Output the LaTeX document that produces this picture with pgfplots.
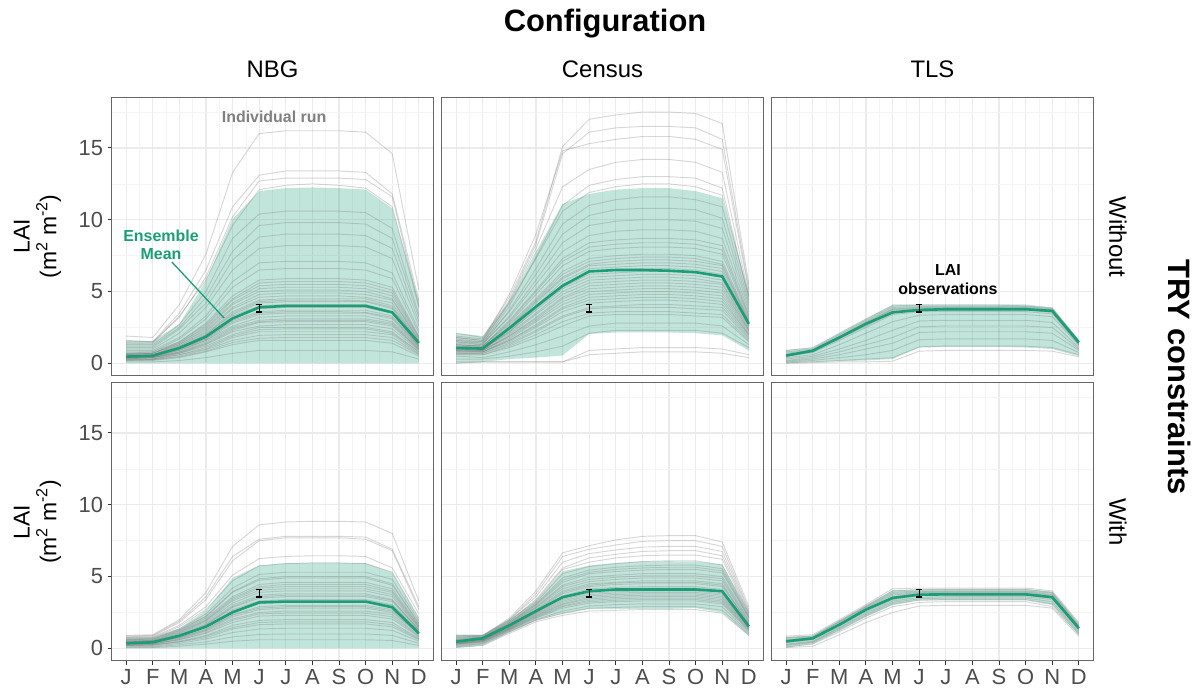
\documentclass[border=0pt]{standalone}
\usepackage{fontspec}
\setmainfont{Liberation Sans}
\usepackage{pgfplots}
\usepackage{pgfplotstable}
\pgfplotsset{compat=1.18}
\usepgfplotslibrary{fillbetween}

\definecolor{dgreen}{HTML}{1B9E77}
\definecolor{gridmaj}{HTML}{EBEBEB}
\definecolor{gridmin}{HTML}{F4F4F4}
\definecolor{framec}{HTML}{666666}
\definecolor{tickc}{HTML}{333333}
\definecolor{ticktxt}{HTML}{4D4D4D}
\definecolor{annot}{HTML}{808080}
\definecolor{rungray}{HTML}{7A7A7A}

% ---------- ensemble summaries: month, ribbon low, ribbon high, ensemble mean
\pgfplotstableread{
m lo hi mu
1 0 1.58 0.47
2 0 1.55 0.53
3 0 2.74 1.07
4 0 5.75 1.86
5 0 10.05 3.13
6 0 12.0 3.9
7 0 12.2 4.0
8 0 12.25 4.0
9 0 12.2 4.0
10 0 12.1 4.0
11 0 10.8 3.55
12 0 4.4 1.42
}\sumNBGwo
\pgfplotstableread{
m lo hi mu
1 0.0 2.1 1.07
2 0.1 1.9 1.03
3 0.3 4.3 2.45
4 0.4 7.8 3.95
5 0.55 11.1 5.4
6 2.05 11.8 6.4
7 2.15 12.1 6.5
8 2.15 12.2 6.5
9 2.15 12.2 6.45
10 2.1 12.0 6.35
11 1.95 11.5 6.05
12 0.9 4.95 2.75
}\sumCENwo
\pgfplotstableread{
m lo hi mu
1 0.0 0.93 0.54
2 0.1 1.1 0.88
3 0.15 2.1 1.8
4 0.2 3.1 2.75
5 0.3 4.1 3.55
6 1.1 4.1 3.72
7 1.15 4.1 3.77
8 1.15 4.1 3.77
9 1.15 4.1 3.77
10 1.1 4.1 3.77
11 1.0 3.9 3.65
12 0.5 1.65 1.45
}\sumTLSwo
\pgfplotstableread{
m lo hi mu
1 0 0.77 0.35
2 0 0.77 0.42
3 0 1.4 0.88
4 0 2.63 1.51
5 0 4.9 2.51
6 0 5.77 3.2
7 0 5.93 3.26
8 0 5.95 3.26
9 0 5.95 3.26
10 0 5.93 3.26
11 0 5.28 2.86
12 0 2.12 1.05
}\sumNBGw
\pgfplotstableread{
m lo hi mu
1 0.05 0.95 0.47
2 0.2 0.95 0.7
3 1.1 2.0 1.6
4 1.95 3.3 2.6
5 2.4 5.37 3.56
6 2.74 5.77 3.98
7 2.75 5.95 4.1
8 2.75 6.05 4.1
9 2.75 6.07 4.1
10 2.8 6.05 4.1
11 2.5 5.84 3.98
12 0.88 2.55 1.53
}\sumCENw
\pgfplotstableread{
m lo hi mu
1 0.05 0.8 0.49
2 0.3 0.9 0.7
3 1.2 1.95 1.65
4 2.2 3.0 2.7
5 3.0 4.05 3.51
6 3.35 4.1 3.74
7 3.35 4.15 3.76
8 3.35 4.15 3.76
9 3.35 4.15 3.76
10 3.35 4.15 3.76
11 3.0 3.95 3.56
12 0.9 1.7 1.4
}\sumTLSw

% ---------- LAI observation (June) with its uncertainty
\pgfplotstableread{
m obs err
6 3.85 0.27
}\obsdata

% ---------- individual runs, one row per run (J ... D)
\pgfplotstableread{
J F M A My Jn Jl Au S O N D
1.9 1.8 4.1 7.6 13.3 16.0 16.2 16.2 16.2 16.1 14.6 5.1
1.6 1.5 3.5 6.5 10.9 13.1 13.4 13.4 13.4 13.3 11.8 4.4
1.5 1.5 3.2 6.0 10.2 12.7 12.9 12.9 12.9 12.8 11.6 4.0
1.4 1.4 3.3 5.8 9.6 12.1 12.4 12.5 12.4 12.2 10.9 3.9
1.3 1.3 2.7 5.0 8.7 10.4 10.6 10.6 10.6 10.5 9.4 3.4
1.2 1.2 2.5 4.6 7.8 9.6 9.8 9.8 9.8 9.7 8.7 3.2
1.1 1.1 2.4 4.2 7.2 8.8 9.0 9.0 9.0 8.9 8.0 2.9
1.0 1.0 2.1 3.9 6.5 8.0 8.2 8.2 8.2 8.1 7.3 2.6
0.9 0.9 1.8 3.3 5.7 7.0 7.1 7.1 7.1 7.0 6.3 2.3
0.8 0.8 1.7 3.1 5.3 6.5 6.6 6.6 6.6 6.5 5.9 2.1
0.7 0.8 1.5 2.8 4.7 5.8 5.9 5.9 5.9 5.8 5.3 1.9
0.7 0.7 1.5 2.7 4.5 5.6 5.7 5.7 5.7 5.6 5.1 1.8
0.7 0.7 1.4 2.6 4.4 5.4 5.5 5.5 5.5 5.4 4.9 1.8
0.6 0.7 1.4 2.5 4.2 5.2 5.3 5.3 5.3 5.2 4.7 1.7
0.6 0.7 1.3 2.4 4.1 5.0 5.1 5.1 5.1 5.0 4.5 1.6
0.6 0.6 1.3 2.3 3.9 4.8 4.9 4.9 4.9 4.8 4.4 1.6
0.6 0.6 1.2 2.2 3.8 4.6 4.7 4.7 4.7 4.6 4.2 1.5
0.5 0.6 1.2 2.1 3.6 4.4 4.5 4.5 4.5 4.5 4.0 1.5
0.55 0.55 1.1 2.0 3.5 4.3 4.4 4.4 4.4 4.35 3.9 1.45
0.5 0.6 1.1 2.0 3.4 4.2 4.3 4.3 4.3 4.3 3.8 1.4
0.5 0.5 1.1 1.9 3.3 4.0 4.1 4.1 4.1 4.1 3.6 1.3
0.5 0.5 1.0 1.8 3.1 3.8 3.9 3.9 3.9 3.9 3.5 1.2
0.45 0.5 1.0 1.7 3.0 3.6 3.7 3.7 3.7 3.7 3.3 1.2
0.4 0.45 0.95 1.7 2.9 3.5 3.6 3.6 3.6 3.55 3.2 1.2
0.4 0.5 0.9 1.6 2.8 3.4 3.5 3.5 3.5 3.5 3.1 1.1
0.4 0.4 0.9 1.6 2.6 3.2 3.3 3.3 3.3 3.3 2.9 1.1
0.4 0.4 0.8 1.5 2.5 3.0 3.1 3.1 3.1 3.1 2.8 1.0
0.35 0.4 0.8 1.4 2.4 2.9 3.0 3.0 3.0 3.0 2.7 1.0
0.35 0.4 0.75 1.35 2.3 2.85 2.9 2.9 2.9 2.9 2.6 0.95
0.3 0.4 0.7 1.3 2.2 2.6 2.7 2.7 2.7 2.7 2.4 0.9
0.3 0.3 0.7 1.2 2.0 2.5 2.5 2.5 2.5 2.5 2.2 0.8
0.3 0.3 0.6 1.1 1.9 2.35 2.4 2.4 2.4 2.4 2.1 0.8
0.3 0.3 0.6 1.0 1.8 2.2 2.2 2.2 2.2 2.2 2.0 0.7
0.25 0.25 0.5 0.95 1.6 1.95 2.0 2.0 2.0 2.0 1.8 0.65
0.2 0.25 0.45 0.85 1.45 1.75 1.8 1.8 1.8 1.8 1.6 0.6
0.2 0.2 0.4 0.8 1.3 1.6 1.6 1.6 1.6 1.6 1.4 0.5
0.1 0.1 0.2 0.4 0.7 0.9 0.9 0.9 0.9 0.9 0.8 0.3
}\runNBGwoRows
\pgfplotstableread{
J F M A My Jn Jl Au S O N D
2.1 1.8 4.6 8.5 15.1 17.0 17.3 17.5 17.5 17.4 16.7 5.5
1.9 1.7 4.4 8.3 14.6 16.1 16.4 16.5 16.5 16.4 15.6 5.2
1.8 1.6 4.8 9.0 14.8 15.3 15.6 15.8 15.8 15.6 14.9 5.0
1.7 1.5 4.3 8.0 12.3 13.5 14.0 14.2 14.2 14.0 13.3 4.7
1.6 1.4 4.0 7.4 11.0 12.4 12.8 13.0 13.0 12.9 12.2 4.4
1.8 1.6 4.2 7.3 10.6 11.9 12.3 12.5 12.5 12.3 11.7 4.6
1.5 1.3 3.7 6.6 9.7 11.0 11.4 11.6 11.6 11.4 10.9 4.2
1.6 1.5 3.6 6.2 9.0 10.3 10.7 10.8 10.8 10.7 10.1 4.0
1.4 1.3 3.3 5.8 8.4 9.6 9.9 10.0 10.0 9.9 9.4 3.8
1.5 1.4 3.2 5.5 7.8 8.9 9.2 9.3 9.3 9.2 8.7 3.6
1.3 1.2 3.0 5.1 7.3 8.4 8.6 8.7 8.7 8.6 8.2 3.4
1.3 1.2 2.9 5.0 7.1 8.1 8.3 8.4 8.4 8.3 7.9 3.3
1.2 1.2 2.8 4.8 6.8 7.8 8.0 8.1 8.1 8.0 7.6 3.2
1.3 1.2 2.7 4.5 6.4 7.3 7.5 7.6 7.6 7.5 7.1 3.1
1.2 1.1 2.6 4.4 6.2 7.1 7.3 7.4 7.4 7.3 6.9 3.0
1.1 1.0 2.5 4.3 6.0 6.9 7.1 7.2 7.2 7.1 6.8 2.9
1.1 1.1 2.5 4.2 5.9 6.8 6.9 7.0 7.0 6.9 6.6 2.9
1.2 1.1 2.4 4.0 5.7 6.6 6.7 6.8 6.8 6.7 6.4 2.8
1.0 1.0 2.3 3.9 5.5 6.4 6.5 6.6 6.6 6.5 6.2 2.7
1.0 1.0 2.2 3.8 5.3 6.2 6.3 6.4 6.4 6.3 6.0 2.6
1.1 1.0 2.2 3.7 5.2 6.0 6.1 6.2 6.2 6.1 5.8 2.6
1.1 1.0 2.1 3.5 5.0 5.8 5.9 6.0 6.0 5.9 5.6 2.5
0.9 0.9 2.0 3.4 4.8 5.6 5.7 5.8 5.8 5.7 5.5 2.4
0.9 0.9 1.9 3.2 4.6 5.4 5.5 5.6 5.6 5.5 5.3 2.3
1.0 0.9 1.9 3.1 4.5 5.2 5.3 5.4 5.4 5.3 5.1 2.3
1.0 0.9 1.8 3.0 4.3 5.0 5.1 5.2 5.2 5.1 4.9 2.2
0.8 0.8 1.7 2.9 4.1 4.8 4.9 5.0 5.0 4.9 4.7 2.1
0.8 0.8 1.6 2.7 3.9 4.6 4.7 4.8 4.8 4.7 4.5 2.0
0.8 0.8 1.6 2.6 3.8 4.4 4.5 4.6 4.6 4.5 4.3 2.0
0.9 0.8 1.5 2.5 3.6 4.2 4.3 4.4 4.4 4.3 4.1 1.9
0.7 0.7 1.4 2.3 3.3 3.9 4.0 4.1 4.1 4.0 3.9 1.8
0.7 0.7 1.3 2.2 3.2 3.8 3.9 3.9 3.9 3.8 3.7 1.7
0.6 0.6 1.2 2.0 2.9 3.5 3.6 3.6 3.6 3.5 3.4 1.6
0.6 0.6 1.1 1.8 2.6 3.3 3.4 3.4 3.4 3.3 3.2 1.5
0.5 0.4 0.8 1.3 1.9 2.6 2.8 2.8 2.8 2.8 2.6 1.3
0.3 0.3 0.5 0.8 1.2 2.1 2.3 2.3 2.3 2.3 2.1 1.1
0.1 0.1 0.1 0.1 0.1 0.9 1.0 1.1 1.1 1.1 1.0 0.6
0.0 0.1 0.1 0.1 0.1 0.6 0.7 0.8 0.8 0.8 0.7 0.4
}\runCENwoRows
\pgfplotstableread{
J F M A My Jn Jl Au S O N D
0.9 1.1 2.1 3.1 4.0 4.05 4.05 4.05 4.05 4.0 3.85 1.6
0.8 1.0 2.0 3.0 3.9 3.95 3.95 3.95 3.95 3.95 3.8 1.55
0.7 0.95 1.9 2.9 3.8 3.9 3.9 3.9 3.9 3.9 3.75 1.5
0.65 0.9 1.85 2.85 3.75 3.85 3.85 3.85 3.85 3.85 3.7 1.45
0.6 0.9 1.8 2.8 3.7 3.8 3.8 3.8 3.8 3.8 3.65 1.4
0.55 0.85 1.75 2.7 3.6 3.75 3.75 3.75 3.75 3.75 3.6 1.4
0.5 0.8 1.7 2.6 3.5 3.7 3.7 3.7 3.7 3.7 3.55 1.35
0.5 0.75 1.6 2.5 3.4 3.6 3.6 3.6 3.6 3.6 3.45 1.3
0.4 0.6 1.3 2.1 2.9 3.35 3.4 3.4 3.4 3.4 3.25 1.25
0.3 0.5 1.0 1.6 2.3 2.95 3.0 3.0 3.0 3.0 2.85 1.1
0.2 0.4 0.8 1.3 1.8 2.55 2.6 2.6 2.6 2.6 2.5 1.0
0.15 0.3 0.6 1.0 1.4 2.15 2.2 2.2 2.2 2.2 2.1 0.9
0.1 0.2 0.4 0.6 0.9 1.65 1.7 1.7 1.7 1.7 1.6 0.75
0.05 0.1 0.2 0.3 0.4 1.15 1.2 1.2 1.2 1.2 1.1 0.6
0.0 0.05 0.1 0.1 0.15 0.85 0.9 0.9 0.9 0.9 0.85 0.45
}\runTLSwoRows
\pgfplotstableread{
J F M A My Jn Jl Au S O N D
0.9 0.95 2.0 3.9 7.1 8.6 8.8 8.85 8.85 8.8 8.0 3.3
0.85 0.9 1.9 3.6 6.4 7.6 7.8 7.8 7.8 7.75 6.9 2.9
0.8 0.85 1.8 3.4 6.1 7.5 7.7 7.7 7.7 7.6 6.8 2.7
0.75 0.8 1.6 2.9 5.1 6.25 6.4 6.45 6.45 6.4 5.6 2.4
0.7 0.75 1.5 2.7 4.7 5.75 5.9 5.95 5.95 5.9 5.3 2.1
0.65 0.7 1.35 2.4 4.2 5.15 5.3 5.3 5.3 5.3 4.8 1.9
0.6 0.65 1.3 2.25 3.95 4.85 5.0 5.0 5.0 5.0 4.5 1.75
0.6 0.65 1.25 2.2 3.9 4.75 4.9 4.9 4.9 4.9 4.4 1.7
0.55 0.6 1.2 2.1 3.6 4.45 4.6 4.6 4.6 4.6 4.15 1.6
0.5 0.55 1.15 2.0 3.5 4.3 4.45 4.45 4.45 4.45 4.0 1.55
0.5 0.55 1.1 1.95 3.4 4.2 4.3 4.3 4.3 4.3 3.9 1.5
0.5 0.5 1.05 1.9 3.3 4.05 4.15 4.15 4.15 4.15 3.75 1.45
0.45 0.5 1.0 1.8 3.15 3.9 4.0 4.0 4.0 4.0 3.6 1.4
0.45 0.5 0.95 1.7 3.0 3.7 3.8 3.8 3.8 3.8 3.4 1.3
0.45 0.5 0.9 1.65 2.9 3.6 3.7 3.7 3.7 3.7 3.35 1.3
0.4 0.45 0.9 1.6 2.85 3.5 3.6 3.6 3.6 3.6 3.25 1.25
0.4 0.45 0.85 1.55 2.7 3.3 3.4 3.4 3.4 3.4 3.05 1.2
0.4 0.45 0.85 1.5 2.6 3.2 3.3 3.3 3.3 3.3 3.0 1.15
0.35 0.4 0.8 1.45 2.5 3.1 3.2 3.2 3.2 3.2 2.9 1.1
0.35 0.4 0.75 1.35 2.35 2.9 3.0 3.0 3.0 3.0 2.7 1.05
0.35 0.4 0.75 1.3 2.3 2.8 2.9 2.9 2.9 2.9 2.6 1.0
0.3 0.35 0.7 1.25 2.2 2.7 2.8 2.8 2.8 2.8 2.5 1.0
0.3 0.3 0.65 1.2 2.05 2.5 2.6 2.6 2.6 2.6 2.35 0.9
0.3 0.3 0.6 1.1 1.95 2.4 2.45 2.45 2.45 2.45 2.2 0.85
0.25 0.3 0.6 1.05 1.8 2.25 2.3 2.3 2.3 2.3 2.05 0.8
0.2 0.25 0.5 0.9 1.6 1.95 2.0 2.0 2.0 2.0 1.8 0.7
0.2 0.25 0.45 0.85 1.45 1.8 1.85 1.85 1.85 1.85 1.65 0.65
0.2 0.2 0.45 0.75 1.35 1.65 1.7 1.7 1.7 1.7 1.5 0.6
0.15 0.15 0.35 0.65 1.1 1.35 1.4 1.4 1.4 1.4 1.25 0.5
0.1 0.1 0.25 0.45 0.8 0.97 1.0 1.0 1.0 1.0 0.9 0.35
0.05 0.05 0.15 0.3 0.5 0.6 0.6 0.6 0.6 0.6 0.55 0.2
}\runNBGwRows
\pgfplotstableread{
J F M A My Jn Jl Au S O N D
0.9 0.9 2.1 4.0 6.65 7.15 7.55 7.8 7.85 7.85 7.4 2.9
0.8 0.85 2.0 3.8 6.4 6.9 7.2 7.45 7.5 7.5 7.1 2.7
0.85 0.9 2.0 3.6 6.0 6.6 6.85 7.05 7.1 7.1 6.75 2.6
0.7 0.8 1.9 3.4 5.6 6.3 6.55 6.75 6.8 6.8 6.45 2.5
0.75 0.85 1.9 3.3 5.5 6.0 6.3 6.45 6.5 6.5 6.2 2.4
0.6 0.75 1.8 3.2 5.2 5.7 5.9 6.05 6.1 6.1 5.8 2.3
0.65 0.8 1.8 3.1 4.9 5.45 5.65 5.75 5.8 5.8 5.55 2.2
0.6 0.75 1.75 3.05 4.75 5.3 5.5 5.6 5.65 5.65 5.4 2.15
0.5 0.7 1.7 3.0 4.6 5.2 5.35 5.45 5.5 5.5 5.25 2.1
0.55 0.75 1.7 2.9 4.4 4.95 5.1 5.2 5.2 5.2 5.0 2.0
0.5 0.7 1.65 2.85 4.3 4.8 4.95 5.05 5.05 5.05 4.85 1.9
0.45 0.65 1.6 2.8 4.15 4.65 4.8 4.9 4.9 4.9 4.7 1.85
0.5 0.7 1.6 2.7 4.0 4.5 4.6 4.7 4.7 4.7 4.5 1.75
0.45 0.65 1.6 2.65 3.9 4.4 4.55 4.6 4.6 4.6 4.4 1.7
0.4 0.6 1.55 2.6 3.8 4.3 4.45 4.5 4.5 4.5 4.3 1.7
0.45 0.65 1.5 2.55 3.65 4.15 4.25 4.3 4.3 4.3 4.1 1.6
0.4 0.6 1.5 2.5 3.55 4.05 4.15 4.2 4.2 4.2 4.0 1.6
0.35 0.55 1.45 2.5 3.5 3.95 4.05 4.1 4.1 4.1 3.9 1.55
0.35 0.55 1.45 2.45 3.4 3.85 3.95 4.0 4.0 4.0 3.8 1.5
0.4 0.6 1.4 2.4 3.3 3.75 3.85 3.9 3.9 3.9 3.7 1.45
0.35 0.55 1.4 2.35 3.2 3.65 3.75 3.8 3.8 3.8 3.6 1.45
0.3 0.5 1.35 2.3 3.1 3.55 3.65 3.7 3.7 3.7 3.5 1.4
0.3 0.5 1.35 2.25 3.05 3.45 3.55 3.6 3.6 3.6 3.4 1.35
0.3 0.45 1.3 2.2 2.95 3.35 3.45 3.5 3.5 3.5 3.3 1.3
0.25 0.45 1.3 2.15 2.9 3.25 3.35 3.4 3.4 3.4 3.2 1.25
0.2 0.4 1.25 2.1 2.8 3.15 3.25 3.3 3.3 3.3 3.1 1.2
0.15 0.35 1.2 2.0 2.6 2.95 3.05 3.1 3.1 3.1 2.9 1.1
0.1 0.3 1.15 1.95 2.45 2.8 2.85 2.9 2.9 2.9 2.65 1.0
0.05 0.2 1.05 1.85 2.3 2.6 2.65 2.7 2.7 2.7 2.45 0.9
}\runCENwRows
\pgfplotstableread{
J F M A My Jn Jl Au S O N D
0.85 0.95 2.0 3.05 4.15 4.2 4.2 4.2 4.2 4.2 4.0 1.8
0.75 0.85 1.9 2.95 4.0 4.1 4.1 4.1 4.1 4.1 3.9 1.7
0.7 0.8 1.85 2.9 3.9 4.0 4.0 4.0 4.0 4.0 3.85 1.6
0.6 0.75 1.8 2.85 3.8 3.95 3.95 3.95 3.95 3.95 3.75 1.55
0.55 0.7 1.7 2.8 3.7 3.9 3.9 3.9 3.9 3.9 3.7 1.5
0.5 0.7 1.65 2.7 3.6 3.85 3.85 3.85 3.85 3.85 3.65 1.45
0.45 0.65 1.6 2.65 3.5 3.8 3.8 3.8 3.8 3.8 3.6 1.4
0.4 0.6 1.55 2.55 3.4 3.7 3.7 3.7 3.7 3.7 3.5 1.35
0.3 0.5 1.45 2.45 3.3 3.55 3.6 3.6 3.6 3.6 3.4 1.3
0.25 0.45 1.4 2.35 3.2 3.45 3.5 3.5 3.5 3.5 3.25 1.2
0.2 0.4 1.3 2.25 3.1 3.35 3.4 3.4 3.4 3.4 3.1 1.1
0.1 0.3 1.15 2.1 2.9 3.2 3.25 3.25 3.25 3.25 2.9 1.0
0.05 0.15 0.95 1.8 2.5 2.95 3.0 3.0 3.0 3.0 2.8 0.85
}\runTLSwRows

% one column per run, one row per month
\pgfplotstabletranspose{\runNBGwo}{\runNBGwoRows}
\pgfplotstabletranspose{\runCENwo}{\runCENwoRows}
\pgfplotstabletranspose{\runTLSwo}{\runTLSwoRows}
\pgfplotstabletranspose{\runNBGw}{\runNBGwRows}
\pgfplotstabletranspose{\runCENw}{\runCENwRows}
\pgfplotstabletranspose{\runTLSw}{\runTLSwRows}

\pgfplotsset{
  facet/.style={
    scale only axis, width=322bp, height=278bp, anchor=south west,
    xmin=0.45, xmax=12.55, ymin=-0.88, ymax=18.48,
    xtick={1,...,12}, ytick={0,5,10,15},
    minor xtick={1.5,2.5,...,11.5}, minor ytick={2.5,7.5,12.5,17.5},
    xmajorgrids, ymajorgrids, xminorgrids, yminorgrids,
    major grid style={draw=gridmaj, line width=1.1bp},
    minor grid style={draw=gridmin, line width=0.6bp},
    minor tick length=0pt, major tick length=4bp, tick align=outside,
    xtick pos=left, ytick pos=left,
    tick style={draw=tickc, line width=1bp},
    axis line style={draw=framec, line width=1bp},
    xticklabels={J,F,M,A,M,J,J,A,S,O,N,D},
    ticklabel style={font=\fontsize{22}{22}\selectfont, text=ticktxt},
    /pgf/number format/assume math mode=true,
    xticklabel style={yshift=-1bp},
    yticklabel style={xshift=-1bp},
  },
  nox/.style={xticklabels={}, xtick style={draw=none}},
  noy/.style={yticklabels={}, ytick style={draw=none}},
}

% ribbon, individual runs, ensemble mean and observation of one panel
\newcommand\drawpanel[3]{%
  \addplot[draw=none, name path=hi, forget plot] table[x=m,y=hi]{#1};
  \addplot[draw=none, name path=lo, forget plot] table[x=m,y=lo]{#1};
  \addplot[fill=dgreen, fill opacity=0.27, draw=none, forget plot] fill between[of=hi and lo];
  \pgfplotsinvokeforeach{1,...,#3}{%
    \addplot[rungray, opacity=0.3, line width=0.95bp, forget plot]
      table[x expr=\coordindex+1, y index=##1]{#2};}
  \addplot[dgreen, line width=2.6bp, forget plot] table[x=m,y=mu]{#1};
  \addplot[black, mark=none, forget plot,
    error bars/.cd, y dir=both, y explicit,
    error bar style={draw=black, line width=1.1bp},
    error mark options={draw=black, rotate=90, line width=1.1bp, mark size=3.2bp}]
    table[x=m, y=obs, y error=err]{\obsdata};
}

\begin{document}
\begin{tikzpicture}

% ---------------- top row: without TRY constraints
\begin{axis}[facet, nox, at={(111.5bp,317bp)}]
  \drawpanel{\sumNBGwo}{\runNBGwo}{37}
  \node[font=\fontsize{16}{16}\selectfont\bfseries, text=annot]
    at (axis cs:6.56,17.16) {Individual run};
  \node[font=\fontsize{16}{18}\selectfont\bfseries, text=dgreen, align=center]
    at (axis cs:2.31,8.25) {Ensemble\\Mean};
  \draw[dgreen, line width=1.3bp] (axis cs:2.72,7.06) -- (axis cs:4.68,3.16);
\end{axis}
\begin{axis}[facet, nox, noy, at={(441.5bp,317bp)}]
  \drawpanel{\sumCENwo}{\runCENwo}{38}
\end{axis}
\begin{axis}[facet, nox, noy, at={(771.5bp,317bp)}]
  \drawpanel{\sumTLSwo}{\runTLSwo}{15}
  \node[font=\fontsize{16}{19}\selectfont\bfseries, text=black, align=center]
    at (axis cs:7.08,5.81) {LAI\\observations};
\end{axis}

% ---------------- bottom row: with TRY constraints
\begin{axis}[facet, at={(111.5bp,32bp)}]
  \drawpanel{\sumNBGw}{\runNBGw}{31}
\end{axis}
\begin{axis}[facet, noy, at={(441.5bp,32bp)}]
  \drawpanel{\sumCENw}{\runCENw}{29}
\end{axis}
\begin{axis}[facet, noy, at={(771.5bp,32bp)}]
  \drawpanel{\sumTLSw}{\runTLSw}{13}
\end{axis}

% ---------------- titles, strips and axis titles
\node[anchor=base, font=\fontsize{31}{31}\selectfont\bfseries] at (605bp,661bp) {Configuration};
\node[anchor=base, font=\fontsize{24}{24}\selectfont] at (272.5bp,615bp) {NBG};
\node[anchor=base, font=\fontsize{24}{24}\selectfont] at (602.5bp,615bp) {Census};
\node[anchor=base, font=\fontsize{24}{24}\selectfont] at (932.5bp,615bp) {TLS};

\node[rotate=-90, font=\fontsize{24}{24}\selectfont] at (1118bp,456bp) {Without};
\node[rotate=-90, font=\fontsize{24}{24}\selectfont] at (1118bp,171bp) {With};
\node[rotate=-90, font=\fontsize{31}{31}\selectfont\bfseries] at (1180bp,316bp) {TRY constraints};

\node[rotate=90, align=center, font=\fontsize{23}{27}\selectfont]
  at (37.5bp,456.5bp) {LAI\\(m\textsuperscript{2} m\textsuperscript{-2})};
\node[rotate=90, align=center, font=\fontsize{23}{27}\selectfont]
  at (37.5bp,171bp) {LAI\\(m\textsuperscript{2} m\textsuperscript{-2})};

% page extent
\pgfresetboundingbox
\useasboundingbox (0,0) rectangle (1197bp,693bp);
\end{tikzpicture}
\end{document}
